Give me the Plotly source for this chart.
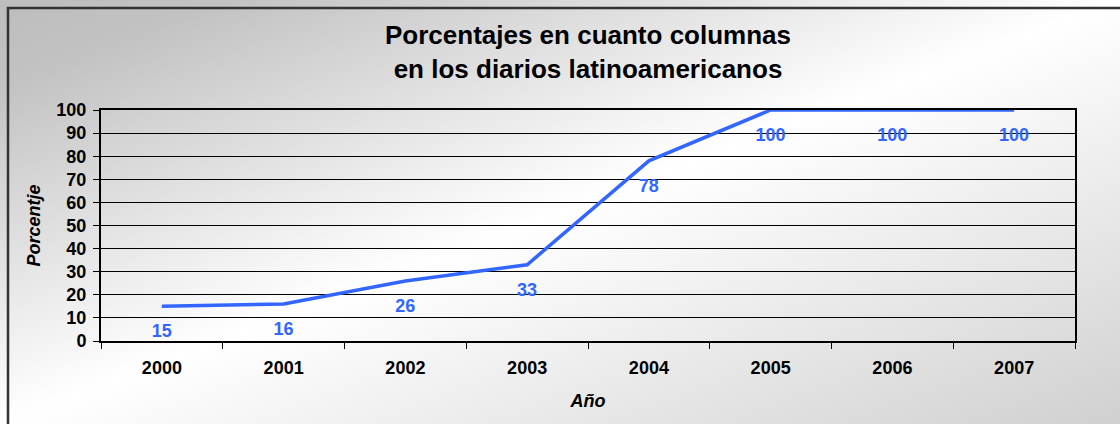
import plotly.graph_objects as go

# data
years = ["2000", "2001", "2002", "2003", "2004", "2005", "2006", "2007"]
porcentajes = [15, 16, 26, 33, 78, 100, 100, 100]
y_ticks = list(range(0, 101, 10))

W, H = 1120, 424
L, R, T, B = 101, 45, 110, 83
pw, ph = W - L - R, H - T - B

BLUE = "#3366FF"
FONT = "Liberation Sans, Arial, sans-serif"

# diagonal grey-white-grey background, painted behind the transparent figure
BG_CSS = ("linear-gradient(to bottom right, #bdbdbd 0%, #c2c2c2 10%, "
          "#ffffff 50%, #d0d0d0 100%)")

fig = go.Figure()

fig.add_trace(go.Scatter(
    x=years, y=porcentajes,
    mode="lines",
    line=dict(color=BLUE, width=3.5),
    hoverinfo="x+y",
    showlegend=False,
))

# value labels under each point (invisible big marker pushes text down)
fig.add_trace(go.Scatter(
    x=years, y=porcentajes,
    mode="markers+text",
    marker=dict(size=26, color="rgba(0,0,0,0)"),
    text=[str(v) for v in porcentajes],
    textposition="bottom center",
    textfont=dict(family=FONT, size=18, color=BLUE, weight="bold"),
    hoverinfo="skip",
    showlegend=False,
    cliponaxis=False,
))

# outer frame (right/bottom edges run off the page)
fig.add_shape(
    type="rect", xref="paper", yref="paper",
    x0=(8 - L) / pw, y0=-(B + 20) / ph, x1=1 + (R + 20) / pw, y1=1 + (T - 8) / ph,
    line=dict(color="#333333", width=2.5), fillcolor="rgba(0,0,0,0)", layer="above",
)

fig.update_layout(
    width=W, height=H,
    margin=dict(l=L, r=R, t=T, b=B),
    paper_bgcolor="rgba(0,0,0,0)",
    plot_bgcolor="rgba(0,0,0,0)",
    font=dict(family=FONT, color="black"),
    title=dict(
        text="Porcentajes en cuanto columnas<br>en los diarios latinoamericanos",
        x=0.5, xref="paper", xanchor="center", y=1 - 44 / H, yanchor="middle",
        font=dict(family=FONT, size=26, color="black", weight="bold"),
    ),
    xaxis=dict(
        type="category", tickmode="array", tickvals=years, ticktext=years,
        tickson="boundaries", ticks="outside", ticklen=6, tickcolor="black",
        ticklabelstandoff=9,
        showline=True, linecolor="black", linewidth=2, mirror=True,
        showgrid=False, range=[-0.5, len(years) - 0.5],
        tickfont=dict(family=FONT, size=18, weight="bold"),
        title=dict(text="<i>Año</i>", standoff=18,
                   font=dict(family=FONT, size=18, weight="bold")),
    ),
    yaxis=dict(
        range=[0, 100], tickvals=y_ticks, ticks="outside", ticklen=6, tickcolor="black",
        ticklabelstandoff=3,
        showline=True, linecolor="black", linewidth=2, mirror=True,
        showgrid=True, gridcolor="black", gridwidth=1, zeroline=False,
        tickfont=dict(family=FONT, size=18, weight="bold"),
        title=dict(text="<i>Porcentje</i>", standoff=11,
                   font=dict(family=FONT, size=18, weight="bold")),
    ),
)

post = (
    "document.body.style.margin='0';"
    "document.getElementById('{plot_id}').style.background='" + BG_CSS + "';"
)
fig.write_html("out.html", config={"displayModeBar": False}, post_script=post)
